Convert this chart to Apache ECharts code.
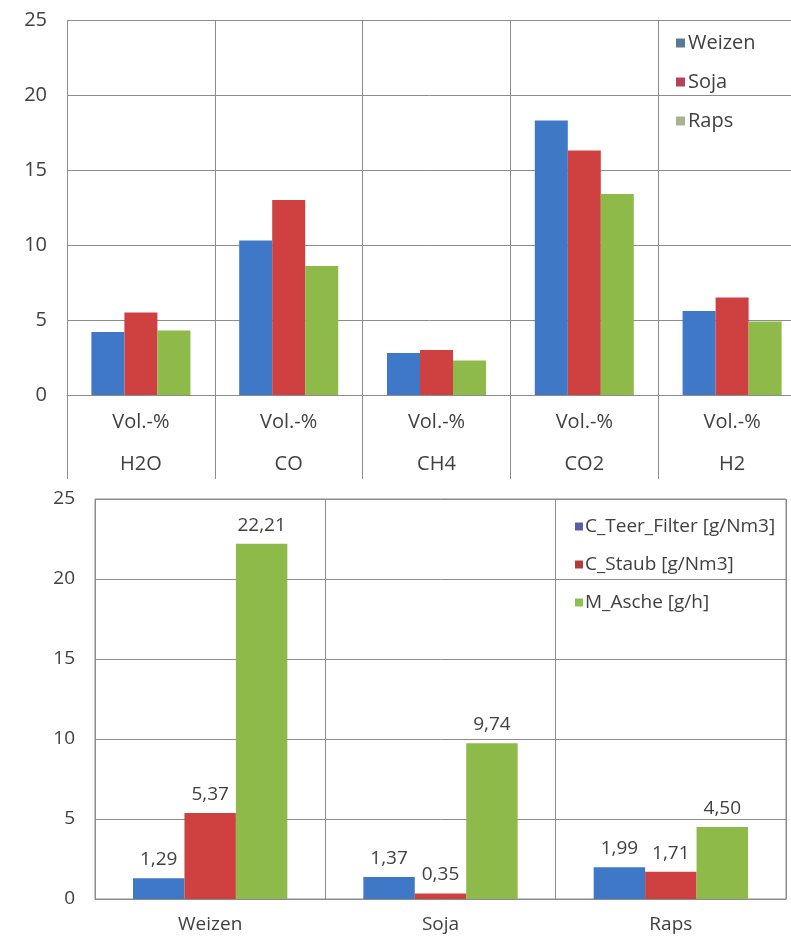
<!DOCTYPE html>
<html>
<head>
<meta charset="utf-8">
<script src="https://cdn.jsdelivr.net/npm/echarts@6/dist/echarts.min.js"></script>
<style>
  html, body { margin: 0; padding: 0; background: #fff; overflow: hidden; }
  #chart { width: 791px; height: 938px; }
</style>
</head>
<body>
<div id="chart"></div>
<script>
// Gas composition (Vol.-%) per feedstock
const gasUnit = 'Vol.-%';
const gasCategories = ['H2O', 'CO', 'CH4', 'CO2', 'H2'];
const gasWeizen = [4.2, 10.3, 2.8, 18.3, 5.6];
const gasSoja = [5.5, 13.0, 3.0, 16.3, 6.5];
const gasRaps = [4.3, 8.6, 2.3, 13.4, 4.9];
const gasSeriesNames = ['Weizen', 'Soja', 'Raps'];

// Tar, dust and ash per feedstock
const fuelCategories = ['Weizen', 'Soja', 'Raps'];
const teerFilter = [1.29, 1.37, 1.99];
const staub = [5.37, 0.35, 1.71];
const asche = [22.21, 9.74, 4.50];
const fuelSeriesNames = ['C_Teer_Filter [g/Nm3]', 'C_Staub [g/Nm3]', 'M_Asche [g/h]'];

const yTicks = [0, 5, 10, 15, 20, 25];

const BLUE = '#3f78c6';
const RED = '#cf4140';
const GREEN = '#8dba48';
const GRID = '#8c8c8c';
const TEXT = '#404040';
const FONT = 'Open Sans';

const deComma = v => v.toFixed(2).replace('.', ',');

const chart = echarts.init(document.getElementById('chart'), null, { renderer: 'canvas' });

const valueAxis = (gridIndex, margin, size) => ({
  type: 'value', gridIndex,
  min: yTicks[0], max: yTicks[yTicks.length - 1], interval: 5,
  axisLine: { show: false }, axisTick: { show: false },
  axisLabel: { color: TEXT, fontFamily: FONT, fontSize: size, margin },
  splitLine: { show: true, lineStyle: { color: GRID, width: 1 } }
});

const gasBar = (name, data, color) => ({
  name, type: 'bar', xAxisIndex: 0, yAxisIndex: 0, data,
  barGap: '0%', barCategoryGap: '33%',
  itemStyle: { color }
});

const fuelBar = (name, data, color) => ({
  name, type: 'bar', xAxisIndex: 1, yAxisIndex: 1, data,
  barGap: '0%', barCategoryGap: '33%',
  itemStyle: { color },
  label: {
    show: true, position: 'top', distance: 9,
    color: TEXT, fontFamily: FONT, fontSize: 19,
    formatter: p => deComma(p.value)
  }
});

chart.setOption({
  animation: false,
  backgroundColor: '#ffffff',
  grid: [
    // the last gas category runs past the right edge of the page
    { left: 67, top: 20, width: 739, height: 375, show: false, containLabel: false, outerBoundsMode: 'none' },
    { left: 95, top: 499, width: 691, height: 400, show: true, borderColor: GRID, borderWidth: 1, containLabel: false, outerBoundsMode: 'none' }
  ],
  legend: [
    {
      data: gasSeriesNames.map((n, i) => ({
        name: n, itemStyle: { color: ['#5a7a93', '#b5415a', '#aab292'][i] }
      })),
      orient: 'vertical', left: 671, top: 28,
      icon: 'rect', itemWidth: 9, itemHeight: 9, itemGap: 19,
      textStyle: { color: TEXT, fontFamily: FONT, fontSize: 20, padding: [0, 0, 0, -2] }
    },
    {
      data: fuelSeriesNames.map((n, i) => ({
        name: n, itemStyle: { color: ['#5560a8', '#b23a3a', '#8cc050'][i] }
      })),
      orient: 'vertical', left: 570, top: 512,
      icon: 'rect', itemWidth: 8, itemHeight: 8, itemGap: 19,
      textStyle: { color: TEXT, fontFamily: FONT, fontSize: 19, padding: [0, 0, 0, -3] }
    }
  ],
  xAxis: [
    {
      type: 'category', gridIndex: 0, data: gasCategories,
      axisLine: { show: true, lineStyle: { color: GRID } },
      axisTick: { show: true, length: 84, lineStyle: { color: GRID } },
      axisLabel: {
        color: TEXT, fontFamily: FONT, fontSize: 20, margin: 6, lineHeight: 42,
        formatter: v => gasUnit + '\n' + v
      },
      splitLine: { show: true, lineStyle: { color: GRID, width: 1 } }
    },
    {
      type: 'category', gridIndex: 1, data: fuelCategories,
      axisLine: { show: true, lineStyle: { color: GRID } },
      axisTick: { show: false },
      axisLabel: { color: TEXT, fontFamily: FONT, fontSize: 19, margin: 16 },
      splitLine: { show: true, lineStyle: { color: GRID, width: 1 } }
    }
  ],
  yAxis: [
    valueAxis(0, 20, 20),
    valueAxis(1, 20, 19)
  ],
  series: [
    gasBar(gasSeriesNames[0], gasWeizen, BLUE),
    gasBar(gasSeriesNames[1], gasSoja, RED),
    gasBar(gasSeriesNames[2], gasRaps, GREEN),
    fuelBar(fuelSeriesNames[0], teerFilter, BLUE),
    fuelBar(fuelSeriesNames[1], staub, RED),
    fuelBar(fuelSeriesNames[2], asche, GREEN)
  ]
});
</script>
</body>
</html>
